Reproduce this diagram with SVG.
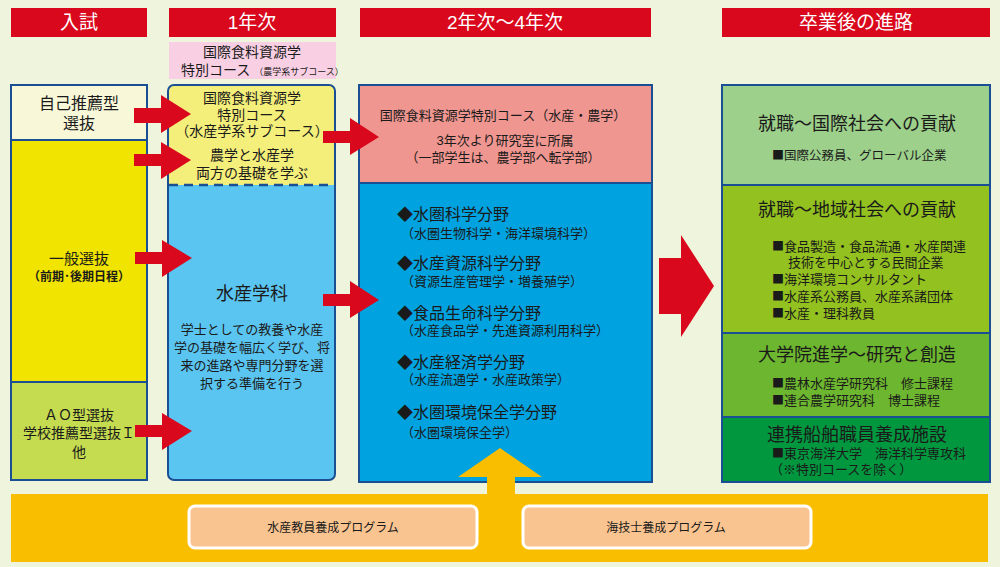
<svg xmlns="http://www.w3.org/2000/svg" width="1000" height="567" viewBox="0 0 1000 567">
<defs>
<style>
text{font-family:"Liberation Sans","Noto Sans CJK JP","Noto Sans CJK SC",sans-serif;fill:#1a1a1a}
.hd{fill:#ffffff;font-size:19px;text-anchor:middle}
.c{text-anchor:middle}
.f16{font-size:16px}
.f15{font-size:15px}
.f14{font-size:14px}
.f13{font-size:13px}
.f125{font-size:12.5px}
.f12{font-size:12px}
.f18{font-size:18px}
.b{font-weight:bold}
.sq{font-family:"Noto Sans CJK JP",sans-serif;font-size:12px}
.nv{stroke:#1a4f94;stroke-width:2}
.arr{fill:#d9081c}
</style>
</defs>
<rect x="0" y="0" width="1000" height="567" fill="#eef5dc"/>

<g id="headers">
<rect x="11" y="8" width="136" height="29" fill="#d9081c"/>
<text class="hd" x="79" y="29">入試</text>
<rect x="169" y="8" width="167" height="29" fill="#d9081c"/>
<text class="hd" x="252" y="29">1年次</text>
<rect x="360" y="8" width="291" height="29" fill="#d9081c"/>
<text class="hd" x="505" y="29">2年次～4年次</text>
<rect x="722" y="8" width="268" height="29" fill="#d9081c"/>
<text class="hd" x="856" y="29">卒業後の進路</text>
</g>

<g id="pink-course">
<rect x="169" y="42" width="167" height="37" fill="#f9d0e3"/>
<text class="c f14" x="252" y="57">国際食料資源学</text>
<text class="f14" x="181" y="75">特別コース<tspan font-size="9px" dx="4">（農学系サブコース）</tspan></text>
</g>

<g id="admission">
<rect x="11" y="85" width="136" height="55" fill="#f8f8d8" class="nv"/>
<text class="c f16" x="79" y="109">自己推薦型</text>
<text class="c f16" x="79" y="129">選抜</text>
<rect x="11" y="140" width="136" height="242" fill="#f0e400" class="nv"/>
<text class="c f15" x="79" y="264">一般選抜</text>
<text class="c f12 b" x="79" y="281">（前期･後期日程）</text>
<rect x="11" y="382" width="136" height="98" fill="#c6dc50" class="nv"/>
<text class="c f14" x="79" y="420">ＡＯ型選抜</text>
<text class="c f14" x="79" y="438">学校推薦型選抜Ｉ</text>
<text class="c f14" x="79" y="457">他</text>
</g>

<g id="year1">
<rect x="168" y="85" width="167" height="395" rx="6" fill="#5bc5f1"/>
<path d="M168,185 V91 A6,6 0 0 1 174,85 H329 A6,6 0 0 1 335,91 V185 Z" fill="#f4ee7a"/>
<line x1="169" y1="185" x2="334" y2="185" stroke="#1a4f94" stroke-width="2.5" stroke-dasharray="9,6"/>
<rect x="168" y="85" width="167" height="395" rx="6" fill="none" class="nv"/>
<text class="c f14" x="252" y="103">国際食料資源学</text>
<text class="c f14" x="252" y="120">特別コース</text>
<text class="c f14" x="252" y="136">（水産学系サブコース）</text>
<text class="c f14" x="252" y="160">農学と水産学</text>
<text class="c f14" x="252" y="178">両方の基礎を学ぶ</text>
<text class="c f18" x="252" y="300">水産学科</text>
<text class="c f13" x="252" y="334">学士としての教養や水産</text>
<text class="c f13" x="252" y="352">学の基礎を幅広く学び、将</text>
<text class="c f13" x="252" y="370">来の進路や専門分野を選</text>
<text class="c f13" x="252" y="388">択する準備を行う</text>
</g>

<g id="year2-4">
<rect x="359" y="85" width="293" height="98" fill="#f09690" class="nv"/>
<rect x="359" y="183" width="293" height="299" fill="#00a2e0" class="nv"/>
<text class="c f13" x="503" y="120">国際食料資源学特別コース（水産・農学）</text>
<text class="c f13" x="505" y="145">3年次より研究室に所属</text>
<text class="c f13" x="503" y="162">（一部学生は、農学部へ転学部）</text>
<text class="f16" x="397" y="220">◆水圏科学分野</text>
<text class="f13" x="401" y="238">（水圏生物科学・海洋環境科学）</text>
<text class="f16" x="397" y="269">◆水産資源科学分野</text>
<text class="f13" x="401" y="286">（資源生産管理学・増養殖学）</text>
<text class="f16" x="397" y="319">◆食品生命科学分野</text>
<text class="f13" x="401" y="335">（水産食品学・先進資源利用科学）</text>
<text class="f16" x="397" y="368">◆水産経済学分野</text>
<text class="f13" x="401" y="384">（水産流通学・水産政策学）</text>
<text class="f16" x="397" y="418">◆水圏環境保全学分野</text>
<text class="f13" x="401" y="437">（水圏環境保全学）</text>
</g>

<g id="career">
<rect x="722" y="85" width="268" height="100" fill="#9dd08a" class="nv"/>
<rect x="722" y="185" width="268" height="148" fill="#93c11f" class="nv"/>
<rect x="722" y="333" width="268" height="84" fill="#6db62f" class="nv"/>
<rect x="722" y="417" width="268" height="65" fill="#00973f" class="nv"/>
<text class="c f18" x="857" y="130">就職～国際社会への貢献</text>
<text class="f125" x="772" y="160"><tspan class="sq">■</tspan>国際公務員、グローバル企業</text>
<text class="c f18" x="857" y="216">就職～地域社会への貢献</text>
<text class="f13" x="772" y="251"><tspan class="sq">■</tspan>食品製造・食品流通・水産関連</text>
<text class="f13" x="788" y="267">技術を中心とする民間企業</text>
<text class="f13" x="772" y="284"><tspan class="sq">■</tspan>海洋環境コンサルタント</text>
<text class="f13" x="772" y="301"><tspan class="sq">■</tspan>水産系公務員、水産系諸団体</text>
<text class="f13" x="772" y="318"><tspan class="sq">■</tspan>水産・理科教員</text>
<text class="c f18" x="857" y="361">大学院進学～研究と創造</text>
<text class="f13" x="772" y="388"><tspan class="sq">■</tspan>農林水産学研究科　修士課程</text>
<text class="f13" x="772" y="405"><tspan class="sq">■</tspan>連合農学研究科　博士課程</text>
<text class="c f18" x="857" y="441">連携船舶職員養成施設</text>
<text class="f13" x="772" y="458"><tspan class="sq">■</tspan>東京海洋大学　海洋科学専攻科</text>
<text class="f13" x="770" y="474">（※特別コースを除く）</text>
</g>

<g id="programs">
<rect x="11" y="494" width="977" height="68" fill="#f9be00"/>
<rect x="189" y="506" width="288" height="42" rx="6" fill="#f9c490" stroke="#ffffff" stroke-width="3"/>
<text class="c f12" x="333" y="532">水産教員養成プログラム</text>
<rect x="523" y="506" width="288" height="42" rx="6" fill="#f9c490" stroke="#ffffff" stroke-width="3"/>
<text class="c f12" x="666" y="532">海技士養成プログラム</text>
</g>

<g id="connectors">
<polygon class="arr" points="134,108 161,108 161,95 191,114 161,133 161,123 134,123"/>
<polygon class="arr" points="134,154 161,154 161,142 191,160 161,179 161,166 134,166"/>
<polygon class="arr" points="135,252 162,252 162,240 192,258 162,277 162,264 135,264"/>
<polygon class="arr" points="135,425 162,425 162,413 192,431 162,450 162,437 135,437"/>
<polygon class="arr" points="323,131 350,131 350,118 379,137 350,155 350,143 323,143"/>
<polygon class="arr" points="323,294 350,294 350,281 379,300 350,318 350,306 323,306"/>
<polygon class="arr" points="659,258 681,258 681,235 714,286 681,337 681,314 659,314"/>
<polygon fill="#f9be00" points="487,495 487,477 458,477 500,448 542,477 515,477 515,495"/>
</g>
</svg>
